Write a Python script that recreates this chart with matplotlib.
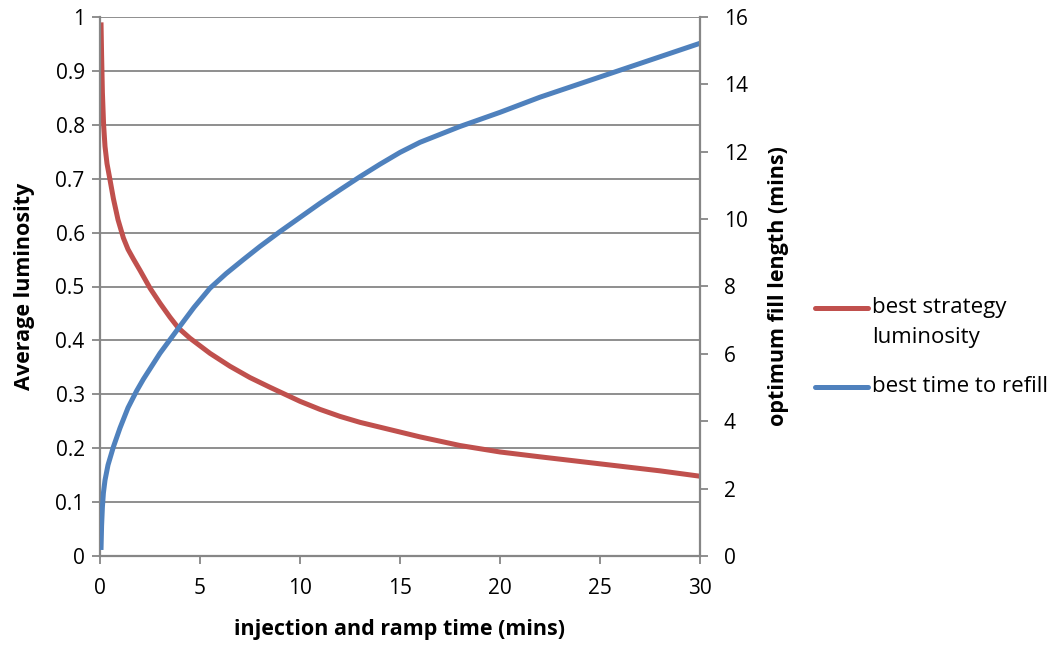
import matplotlib
matplotlib.use("Agg")
import matplotlib.pyplot as plt
from matplotlib.lines import Line2D

# Data
lum_t = [0.05, 0.08, 0.12, 0.18, 0.25, 0.35, 0.5, 0.67, 0.9, 1.17, 1.4, 1.67, 2.0, 2.5,
         3.0, 3.5, 3.92, 4.5, 5.5, 6.5, 7.5, 8.5, 10.0, 11.0, 12.0, 13.0, 14.0,
         16.0, 18.0, 20.0, 22.0, 25.0, 28.0, 30.0]
lum_v = [0.99, 0.93, 0.86, 0.80, 0.760, 0.728, 0.698, 0.663, 0.624, 0.590, 0.569, 0.551,
         0.530, 0.497, 0.469, 0.443, 0.423, 0.404, 0.376, 0.352, 0.331, 0.313,
         0.287, 0.272, 0.259, 0.248, 0.239, 0.221, 0.205, 0.193, 0.184, 0.171, 0.158,
         0.148]

fill_t = [0.05, 0.08, 0.12, 0.17, 0.25, 0.4, 0.67, 1.0, 1.4, 1.83, 2.17, 3.0, 3.92, 4.7,
          5.5, 6.3, 7.17, 8.0, 9.0, 10.0, 11.0, 12.0, 13.0, 14.0, 15.0, 16.0, 18.0, 20.0,
          22.0, 25.0, 28.0, 30.0]
fill_v = [0.18, 0.9, 1.45, 1.87, 2.25, 2.7, 3.24, 3.8, 4.4, 4.90, 5.25, 6.02, 6.76, 7.38,
          7.95, 8.38, 8.80, 9.19, 9.63, 10.05, 10.47, 10.87, 11.26, 11.63, 11.98, 12.28,
          12.75, 13.17, 13.62, 14.22, 14.82, 15.22]

x_ticks = [0, 5, 10, 15, 20, 25, 30]
left_ticks = [0, 0.1, 0.2, 0.3, 0.4, 0.5, 0.6, 0.7, 0.8, 0.9, 1]
left_labels = ["0", "0.1", "0.2", "0.3", "0.4", "0.5", "0.6", "0.7", "0.8", "0.9", "1"]
right_ticks = [0, 2, 4, 6, 8, 10, 12, 14, 16]
legend_labels = ["best strategy", "luminosity", "best time to refill"]

RED = "#C0504D"
BLUE = "#4F81BD"
GRID = "#868686"

plt.rcParams['font.family'] = ['Open Sans', 'DejaVu Sans']
FS = 15
LFS = 15.5

fig = plt.figure(figsize=(10.58, 6.46), dpi=100)
ax = fig.add_axes([100/1058, 90/646, 600/1058, 539/646])
ax2 = ax.twinx()

l1, = ax.plot(lum_t, lum_v, color=RED, lw=3.6, solid_capstyle='butt', solid_joinstyle='round')
l2, = ax2.plot(fill_t, fill_v, color=BLUE, lw=3.6, solid_capstyle='butt', solid_joinstyle='round')

ax.set_xlim(0, 30)
ax.set_ylim(0, 1)
ax2.set_ylim(0, 16)
ax.set_xticks(x_ticks)
ax.set_yticks(left_ticks)
ax.set_yticklabels(left_labels)
ax2.set_yticks(right_ticks)

ax.grid(axis='y', color=GRID, lw=1.3)
ax.set_axisbelow(True)

for a in (ax, ax2):
    for s in a.spines.values():
        s.set_visible(False)
    a.tick_params(colors=GRID, labelcolor='black', labelsize=FS, width=1.3, length=6,
                  direction='out')
for a, side in ((ax, 'left'), (ax, 'bottom'), (ax2, 'right')):
    a.spines[side].set_visible(True)
    a.spines[side].set_color(GRID)
    a.spines[side].set_linewidth(1.6)
ax.tick_params(axis='x', pad=10)
ax.tick_params(axis='y', pad=5)
ax2.tick_params(axis='y', pad=11)

ax.set_xlabel("injection and ramp time (mins)", fontsize=LFS, fontweight='bold', labelpad=14)
ax.set_ylabel("Average luminosity", fontsize=LFS, fontweight='bold', labelpad=15)
ax2.set_ylabel("optimum fill length (mins)", fontsize=LFS, fontweight='bold', labelpad=15)

# Legend (Excel style: handle aligned with first text line)
def fx(px):
    return px / 1058
def fy(py):
    return 1 - py / 646

fig.add_artist(Line2D([fx(815), fx(868)], [fy(308), fy(308)], color=RED, lw=3.6,
                      transform=fig.transFigure, solid_capstyle='round'))
fig.add_artist(Line2D([fx(815), fx(868)], [fy(387), fy(387)], color=BLUE, lw=3.6,
                      transform=fig.transFigure, solid_capstyle='round'))
fig.text(fx(872), fy(308), legend_labels[0], fontsize=16, va='center', ha='left')
fig.text(fx(872), fy(337), legend_labels[1], fontsize=16, va='center', ha='left')
fig.text(fx(872), fy(387), legend_labels[2], fontsize=16, va='center', ha='left')

fig.savefig("out.png", dpi=100)
